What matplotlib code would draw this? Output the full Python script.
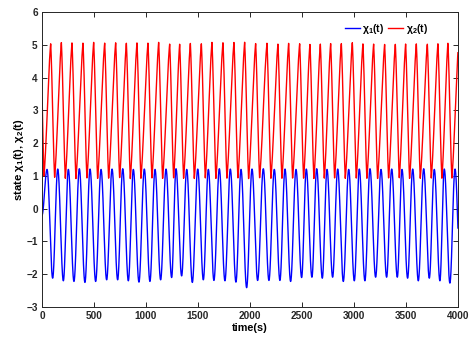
import numpy as np
import matplotlib
matplotlib.use("Agg")
import matplotlib.pyplot as plt

plt.rcParams['font.family'] = ['Liberation Sans', 'DejaVu Sans']
plt.rcParams['font.weight'] = 'bold'
plt.rcParams['mathtext.fontset'] = 'custom'
plt.rcParams['mathtext.bf'] = 'Liberation Sans:bold'
plt.rcParams['mathtext.rm'] = 'Liberation Sans:bold'
plt.rcParams['mathtext.it'] = 'Liberation Sans:bold'
plt.rcParams['mathtext.default'] = 'bf'

# red peak times (s)
peak_t = [83.7, 186.5, 288.5, 394.2, 497.1, 602.9, 708.7, 811.5, 913.5, 1019.2,
          1122.1, 1227.9, 1324.0, 1426.9, 1532.7, 1634.6, 1740.4, 1846.2, 1949.0,
          2054.8, 2163.5, 2269.2, 2372.1, 2477.9, 2576.9, 2676.9, 2776.0, 2878.8,
          2984.6, 3086.5, 3189.4, 3295.2, 3398.1, 3497.1, 3600.0, 3705.8, 3807.7,
          3903.8]

x2_peaks = [5.04, 5.07, 5.06, 5.06, 5.08, 5.06, 5.07, 5.05, 5.06, 5.06, 5.08, 5.03,
            5.02, 5.05, 5.04, 5.08, 5.07, 5.08, 5.08, 5.05, 5.05, 5.03, 5.05, 5.04, 5.02,
            5.03, 5.04, 5.05, 5.07, 5.03, 5.03, 5.02, 5.02, 5.03, 5.03, 5.03, 5.04, 5.06]
x2_troughs = [0.95, 0.93, 0.92, 0.93, 0.92, 0.93, 0.94, 0.92, 0.93, 0.93, 0.92, 0.94,
              0.93, 0.92, 0.93, 0.92, 0.93, 0.93, 0.92, 0.94, 0.93, 0.92, 0.93, 0.93,
              0.92, 0.93, 0.94, 0.92, 0.93, 0.93, 0.92, 0.93, 0.94, 0.92, 0.93, 0.93,
              0.92, 0.93]
x1_troughs = [-2.12, -2.20, -2.22, -2.25, -2.22, -2.17, -2.17, -2.20, -2.24, -2.22,
              -2.17, -2.10, -2.05, -2.25, -2.17, -2.19, -2.20, -2.24, -2.41, -2.19,
              -2.19, -2.19, -2.22, -2.10, -2.09, -2.12, -2.09, -2.22, -2.20, -2.20,
              -2.09, -2.09, -2.09, -2.12, -2.20, -2.12, -2.20, -2.27]
x1_peaks = [1.20, 1.21, 1.20, 1.22, 1.21, 1.20, 1.21, 1.22, 1.20, 1.21, 1.20, 1.21,
            1.22, 1.20, 1.21, 1.20, 1.22, 1.21, 1.20, 1.21, 1.22, 1.20, 1.21, 1.20,
            1.21, 1.22, 1.20, 1.21, 1.20, 1.21, 1.22, 1.20, 1.21, 1.20, 1.21, 1.22,
            1.20, 1.21, 1.21]

x2_start, x2_first_trough, x2_next_peak = 3.4, 1.0, 5.06
x1_start, x1_end = -0.2, -2.2


def wave(times, values, t, mix):
    times = np.asarray(times)
    values = np.asarray(values)
    i = np.clip(np.searchsorted(times, t, side='right') - 1, 0, len(times) - 2)
    s = (t - times[i]) / (times[i + 1] - times[i])
    s = mix * (1 - np.cos(np.pi * s)) / 2 + (1 - mix) * s
    return values[i] + (values[i + 1] - values[i]) * s


pk = np.array(peak_t)
period_next = pk[-1] + (pk[-1] - pk[0]) / (len(pk) - 1)

# red: start, trough, then peak/trough pairs, then next peak
r_t = [0, 19] + [v for k in range(len(pk)) for v in (pk[k], pk[k] + 38)] + [period_next]
r_v = [x2_start, x2_first_trough] + [v for k in range(len(pk))
                                     for v in (x2_peaks[k], x2_troughs[k])] + [x2_next_peak]

# blue: peak before each red peak, trough after it
b_t = [0] + [v for k in range(len(pk)) for v in (pk[k] - 35, pk[k] + 19)] + [period_next - 35, period_next + 19]
b_v = [x1_start] + [v for k in range(len(pk)) for v in (x1_peaks[k], x1_troughs[k])] + [x1_peaks[-1], x1_end]

t = np.linspace(0, 4000, 8001)
x2 = wave(r_t, r_v, t, 0.45)
x1 = wave(b_t, b_v, t, 1.0)

fig = plt.figure(figsize=(4.77, 3.37), dpi=100)
ax = fig.add_axes([0.088, 0.089, 0.872, 0.875])
ax.plot(t, x1, color='#0000ff', lw=1.0, label=r'$\chi_1$(t)')
ax.plot(t, x2, color='#ff0000', lw=1.0, label=r'$\chi_2$(t)')

ax.set_xlim(0, 4000)
ax.set_ylim(-3, 6)
ax.set_xticks(np.arange(0, 4001, 500))
ax.set_yticks(np.arange(-3, 7, 1))
ax.tick_params(direction='in', top=True, right=True, length=3.5, width=0.7,
               labelsize=7.2, colors='#262626', pad=3)
for s in ax.spines.values():
    s.set_linewidth(0.7)
    s.set_color('#262626')

ax.set_xlabel('time(s)', fontsize=7.8, fontweight='bold', labelpad=1)
ax.set_ylabel(r'state $\chi_1$(t), $\chi_2$(t)', fontsize=8.2, fontweight='bold', labelpad=0)

ax.legend(loc='upper right', ncol=2, frameon=False, fontsize=7.5,
          handlelength=1.45, columnspacing=0.4, handletextpad=0.2,
          bbox_to_anchor=(0.95, 1.0))

fig.savefig('out.png', dpi=100)
